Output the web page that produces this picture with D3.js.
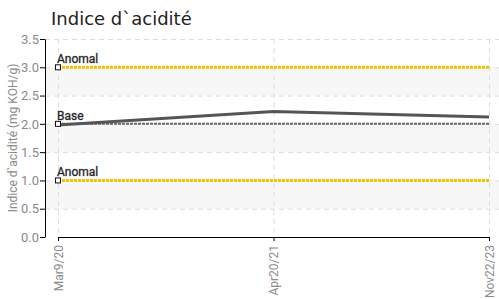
<!DOCTYPE html>
<html>
<head>
<meta charset="utf-8">
<script src="https://cdn.jsdelivr.net/npm/d3@7"></script>
<style>
  body { margin: 0; background: #fff; }
  #chart { width: 499px; height: 299px; }
  .axis-label { font-family: "Liberation Sans Narrow", "Roboto", sans-serif; font-size: 12px; fill: #8a8a8a; }
</style>
</head>
<body>
<div id="chart"></div>
<script>
// data
const dates = ["Mar9/20", "Apr20/21", "Nov22/23"];
const acidity = [1.98, 2.22, 2.12];
const yTicks = [0, 0.5, 1, 1.5, 2, 2.5, 3, 3.5];
const refLabels = ["Anomal", "Base", "Anomal"];
const refValues = [3.0, 2.0, 1.0];
const refColors = ["#f2c300", "#666666", "#f2c300"];

function create_chart(width, height) {
    const margin = { top: 39, right: 0, bottom: 62, left: 45 };
    const innerWidth = width - margin.left - margin.right;
    const innerHeight = height - margin.top - margin.bottom;

    const svg = d3.select("#chart")
        .append("svg")
        .attr("width", width)
        .attr("height", height);

    // title
    svg.append("text")
        .attr("x", 51)
        .attr("y", 25)
        .style("font-family", "'DejaVu Sans', sans-serif")
        .style("font-size", "18px")
        .style("fill", "#222")
        .text("Indice d`acidité");

    const chart = svg.append("g")
        .attr("transform", `translate(${margin.left}, ${margin.top})`);

    const xScale = d3.scalePoint()
        .domain(dates)
        .range([13, innerWidth - 10]);

    const yScale = d3.scaleLinear()
        .domain([0, 3.5])
        .range([innerHeight, 0]);

    // alternating bands
    const bands = [[2.5, 3], [1.5, 2], [0.5, 1]];
    chart.selectAll(".band")
        .data(bands)
        .enter().append("rect")
        .attr("class", "band")
        .attr("x", 0)
        .attr("width", innerWidth)
        .attr("y", d => yScale(d[1]))
        .attr("height", d => yScale(d[0]) - yScale(d[1]))
        .attr("fill", "#f7f7f7");

    // grid lines
    chart.selectAll(".hgrid")
        .data(yTicks.slice(1))
        .enter().append("line")
        .attr("x1", 0)
        .attr("x2", innerWidth)
        .attr("y1", d => yScale(d) + 0.5)
        .attr("y2", d => yScale(d) + 0.5)
        .attr("stroke", "#dcdcdc")
        .attr("stroke-dasharray", "5,4");

    chart.selectAll(".vgrid")
        .data(dates)
        .enter().append("line")
        .attr("x1", d => xScale(d) + 0.5)
        .attr("x2", d => xScale(d) + 0.5)
        .attr("y1", 0)
        .attr("y2", innerHeight)
        .attr("stroke", "#dcdcdc")
        .attr("stroke-dasharray", "5,4");

    // reference lines
    chart.selectAll(".ref")
        .data(refValues)
        .enter().append("line")
        .attr("class", "ref")
        .attr("x1", xScale(dates[0]))
        .attr("x2", xScale(dates[dates.length - 1]))
        .attr("y1", d => yScale(d))
        .attr("y2", d => yScale(d))
        .attr("stroke", (d, i) => refColors[i])
        .attr("stroke-width", (d, i) => refLabels[i] === "Base" ? 2 : 3)
        .attr("stroke-dasharray", (d, i) => refLabels[i] === "Base" ? "3,1" : "3,1");

    // data line
    const line = d3.line()
        .x((d, i) => xScale(dates[i]))
        .y(d => yScale(d));

    chart.append("path")
        .datum(acidity)
        .attr("d", line)
        .attr("fill", "none")
        .attr("stroke", "#555")
        .attr("stroke-width", 3);

    // markers + labels on reference lines
    chart.selectAll(".marker")
        .data(refValues)
        .enter().append("rect")
        .attr("x", xScale(dates[0]) - 2.5)
        .attr("y", d => yScale(d) - 2.5)
        .attr("width", 5)
        .attr("height", 5)
        .attr("fill", "#fff")
        .attr("stroke", "#111")
        .attr("stroke-width", 1);

    chart.selectAll(".ref-label")
        .data(refValues)
        .enter().append("text")
        .attr("x", xScale(dates[0]) - 1)
        .attr("y", d => yScale(d) - 4)
        .style("font-family", "'Liberation Sans Narrow', 'Roboto', sans-serif")
        .style("font-size", "12px")
        .style("fill", "#222")
        .style("paint-order", "stroke")
        .style("stroke", "#999")
        .style("stroke-width", 0.6)
        .text((d, i) => refLabels[i]);

    // y axis
    const yAxis = chart.append("g")
        .call(d3.axisLeft(yScale).tickValues(yTicks).tickFormat(d3.format(".1f")).tickSize(5).tickSizeOuter(0));
    yAxis.select(".domain").attr("stroke", "#000");
    yAxis.selectAll(".tick line").attr("stroke", "#000");
    yAxis.selectAll(".tick text").attr("class", "axis-label").attr("x", -6).style("font-size", "13px");

    // x axis
    const xAxis = chart.append("g")
        .attr("transform", `translate(0, ${innerHeight})`)
        .call(d3.axisBottom(xScale).tickSize(4).tickSizeOuter(0));
    xAxis.select(".domain").attr("stroke", "#000");
    xAxis.selectAll(".tick line").attr("stroke", "#000");
    xAxis.selectAll(".tick text")
        .attr("class", "axis-label")
        .style("font-size", "12px")
        .attr("text-anchor", "end")
        .attr("transform", "rotate(-90)")
        .attr("x", -8)
        .attr("y", 0)
        .attr("dy", "0.35em");

    // y axis title
    chart.append("text")
        .attr("class", "axis-label")
        .attr("text-anchor", "middle")
        .attr("transform", "rotate(-90)")
        .attr("x", -innerHeight / 2)
        .attr("y", -28)
        .style("font-size", "12px")
        .text("Indice d`acidité (mg KOH/g)");
}

create_chart(499, 299);
</script>
</body>
</html>
